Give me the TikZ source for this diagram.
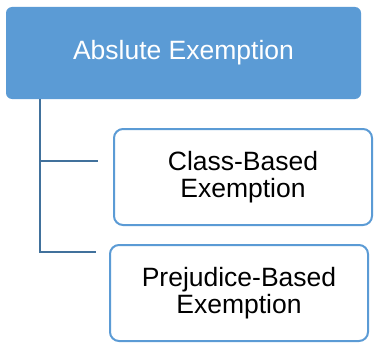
\documentclass[tikz,border=0pt]{standalone}
\usepackage{fontspec}
\setmainfont{Liberation Sans}
\definecolor{topfill}{HTML}{5B9BD5}
\definecolor{conn}{HTML}{41719C}
\begin{document}
\begin{tikzpicture}[x=1pt,y=-1pt,
  topbox/.style={fill=topfill, draw=none, rounded corners=6pt, text=white,
    minimum width=355pt, minimum height=92pt, inner sep=0pt,
    font=\fontsize{26.5}{27.5}\selectfont},
  subbox/.style={draw=topfill, line width=2pt, fill=white, rounded corners=9pt,
    minimum width=258pt, minimum height=96pt, inner sep=0pt, align=center,
    font=\fontsize{26.5}{27.5}\selectfont},
  link/.style={draw=conn, line width=2pt}]
\useasboundingbox (0,0) rectangle (375,345);
\node[topbox] (top) at (183.5,53) {Abslute Exemption};
\node[subbox] (cls) at (243,177) {Class-Based\\Exemption};
\node[subbox] (pre) at (239,293) {Prejudice-Based\\Exemption};
\coordinate (v) at (top.south west -| 40,0);
\coordinate (j1) at (40,161);
\coordinate (c1) at (98,161);
\coordinate (c2) at (96,252);
\draw[link] (v) |- (c2);
\draw[link] (j1) -- (c1);
\end{tikzpicture}
\end{document}
